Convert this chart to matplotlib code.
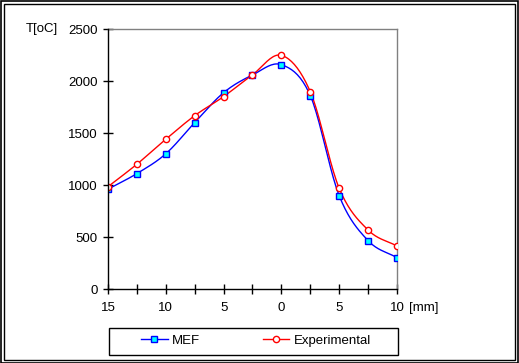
import matplotlib
matplotlib.use("Agg")
import matplotlib.pyplot as plt
import numpy as np
from matplotlib.patches import Rectangle

plt.rcParams['font.family'] = ['Liberation Sans', 'DejaVu Sans']
plt.rcParams['font.size'] = 9.5

# distance from centre, mm (left side negative)
x_mm = [-15, -12.5, -10, -7.5, -5, -2.5, 0, 2.5, 5, 7.5, 10]
mef = [960, 1110, 1300, 1600, 1888, 2058, 2157, 1860, 897, 465, 301]
experimental = [984, 1200, 1440, 1667, 1850, 2060, 2247, 1897, 968, 567, 413]
tick_labels = ['15', '', '10', '', '5', '', '0', '', '5', '', '10']


def smooth(xs, ys, n=20):
    # catmull-rom curve through the points, like excel's smoothed line
    xs = np.asarray(xs, float)
    ys = np.asarray(ys, float)
    px = np.concatenate([[2 * xs[0] - xs[1]], xs, [2 * xs[-1] - xs[-2]]])
    py = np.concatenate([[2 * ys[0] - ys[1]], ys, [2 * ys[-1] - ys[-2]]])
    outx, outy = [], []
    t = np.linspace(0, 1, n, endpoint=False)
    for i in range(1, len(px) - 2):
        for p, out in ((px, outx), (py, outy)):
            p0, p1, p2, p3 = p[i - 1], p[i], p[i + 1], p[i + 2]
            out.extend(0.5 * (2 * p1 + (-p0 + p2) * t
                              + (2 * p0 - 5 * p1 + 4 * p2 - p3) * t ** 2
                              + (-p0 + 3 * p1 - 3 * p2 + p3) * t ** 3))
    outx.append(xs[-1])
    outy.append(ys[-1])
    return np.array(outx), np.array(outy)


W, H = 519, 363
fig = plt.figure(figsize=(W / 100, H / 100), dpi=100)
ax = fig.add_axes([108 / W, (H - 289) / H, 289 / W, 260 / H])

sx, sy = smooth(x_mm, mef)
ax.plot(sx, sy, color='#0000ff', lw=1, zorder=2)
sx, sy = smooth(x_mm, experimental)
ax.plot(sx, sy, color='#ff0000', lw=1, zorder=2)
ax.plot(x_mm, mef, ls='none', marker='s', ms=5, mfc='#00ffff', mec='#0000ff', mew=1, zorder=3)
ax.plot(x_mm, experimental, ls='none', marker='o', ms=4.5, mfc='white', mec='#ff0000', mew=1, zorder=4)

ax.set_xlim(-15, 10)
ax.set_ylim(0, 2500)
ax.set_xticks(x_mm)
ax.set_xticklabels(tick_labels)
ax.set_yticks(range(0, 2501, 500))
ax.tick_params(direction='inout', length=7, width=1, color='black', labelcolor='black')
ax.tick_params(axis='y', pad=4)
ax.tick_params(axis='x', pad=6)
for s in ('left', 'bottom'):
    ax.spines[s].set_color('black')
    ax.spines[s].set_linewidth(1)
for s in ('top', 'right'):
    ax.spines[s].set_color('#808080')
    ax.spines[s].set_linewidth(1)
ax.spines['left'].set_zorder(5)

fig.text(26 / W, 1 - 29 / H, 'T[oC]', ha='left', va='center')
fig.text(409 / W, 1 - 308 / H, '[mm]', ha='left', va='center')

h1, = ax.plot([], [], color='#0000ff', lw=1, marker='s', ms=5, mfc='#00ffff', mec='#0000ff')
h2, = ax.plot([], [], color='#ff0000', lw=1, marker='o', ms=4.5, mfc='white', mec='#ff0000')
leg = fig.legend([h1, h2], ['MEF', 'Experimental'], ncol=2, loc='center',
                 bbox_to_anchor=(111 / W, 1 - 354 / H, 290 / W, 27 / H),
                 frameon=True, fancybox=False, handlelength=2.0, handletextpad=0.3,
                 columnspacing=4.8, borderaxespad=0, borderpad=0.3)
leg.get_frame().set_visible(False)
# legend frame at the fixed box
fig.add_artist(Rectangle((108.5 / W, 1 - 354.5 / H), 289.5 / W, 27 / H, transform=fig.transFigure,
                         fill=False, ec='black', lw=1))

# double border around the figure
fig.add_artist(Rectangle((0.5 / W, 0.5 / H), (W - 1.5) / W, (H - 1.5) / H, transform=fig.transFigure,
                         fill=False, ec='black', lw=1.2))
fig.add_artist(Rectangle((3.5 / W, 3.5 / H), (W - 7.5) / W, (H - 7.5) / H, transform=fig.transFigure,
                         fill=False, ec='black', lw=1))

fig.savefig('out.png', dpi=100)
